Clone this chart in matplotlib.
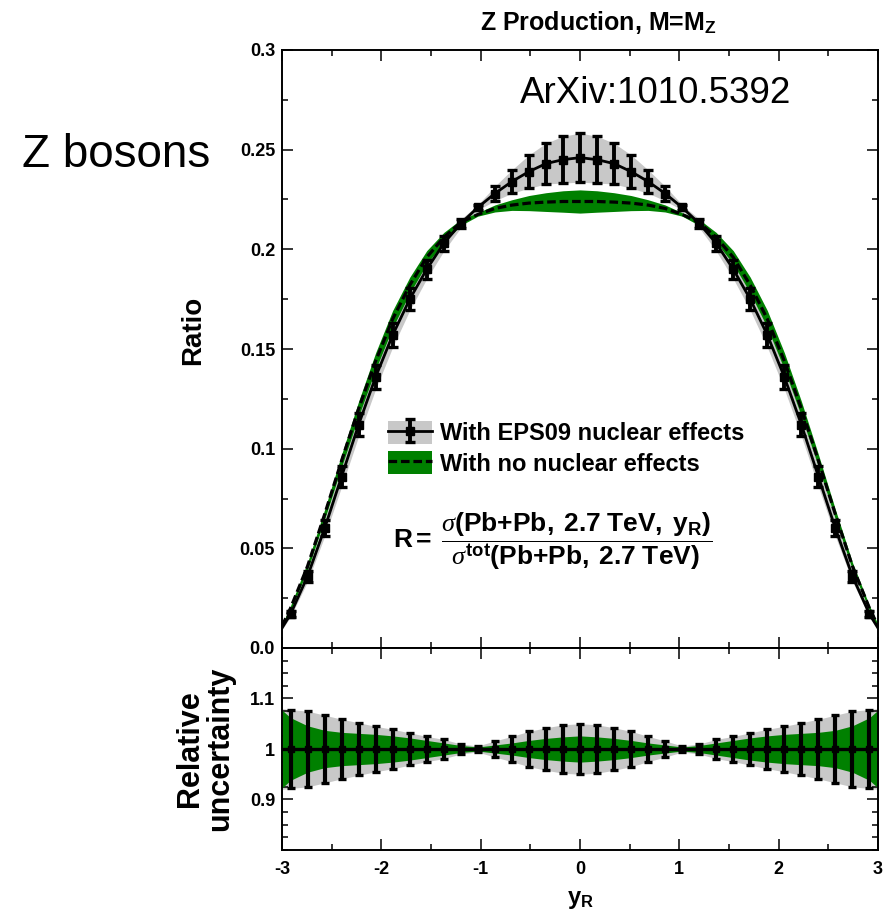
import matplotlib
matplotlib.use('Agg')
import matplotlib.pyplot as plt
import numpy as np
from matplotlib.patches import Patch
from matplotlib.legend_handler import HandlerTuple
from matplotlib.ticker import MultipleLocator

plt.rcParams['font.family'] = 'Liberation Sans'
plt.rcParams['mathtext.fontset'] = 'custom'
plt.rcParams['mathtext.rm'] = 'Liberation Sans'
plt.rcParams['mathtext.bf'] = 'Liberation Sans:bold'
plt.rcParams['mathtext.it'] = 'Liberation Serif:italic'

# rapidity grid: edges + bin centres
yr = [-3.0, -2.914, -2.743, -2.571, -2.4, -2.229, -2.057, -1.886, -1.714, -1.543,
      -1.371, -1.2, -1.029, -0.857, -0.686, -0.514, -0.343, -0.171, 0.0,
      0.171, 0.343, 0.514, 0.686, 0.857, 1.029, 1.2, 1.371, 1.543, 1.714,
      1.886, 2.057, 2.229, 2.4, 2.571, 2.743, 2.914, 3.0]

ratio_eps09 = [0.010, 0.017, 0.036, 0.060, 0.086, 0.112, 0.136, 0.157, 0.175, 0.190,
               0.203, 0.213, 0.221, 0.228, 0.234, 0.239, 0.243, 0.245, 0.246,
               0.245, 0.243, 0.239, 0.234, 0.228, 0.221, 0.213, 0.203, 0.190, 0.175,
               0.157, 0.136, 0.112, 0.086, 0.060, 0.036, 0.017, 0.010]

ratio_free = [0.011, 0.020, 0.041, 0.067, 0.094, 0.120, 0.144, 0.165, 0.182, 0.196,
              0.206, 0.2135, 0.2175, 0.2205, 0.2222, 0.2232, 0.2237, 0.224, 0.224,
              0.224, 0.2237, 0.2232, 0.2222, 0.2205, 0.2175, 0.2135, 0.206, 0.196, 0.182,
              0.165, 0.144, 0.120, 0.094, 0.067, 0.041, 0.020, 0.011]

relerr_eps09 = [0.080, 0.078, 0.075, 0.067, 0.059, 0.052, 0.045, 0.039, 0.032, 0.025,
                0.019, 0.010, 0.006, 0.016, 0.025, 0.035, 0.042, 0.048, 0.050,
                0.048, 0.042, 0.035, 0.025, 0.016, 0.006, 0.010, 0.019, 0.025, 0.032,
                0.039, 0.045, 0.052, 0.059, 0.067, 0.075, 0.078, 0.080]

relerr_free = [0.077, 0.062, 0.046, 0.037, 0.033, 0.031, 0.029, 0.026, 0.022, 0.017,
               0.012, 0.007, 0.004, 0.008, 0.012, 0.017, 0.021, 0.024, 0.026,
               0.024, 0.021, 0.017, 0.012, 0.008, 0.004, 0.007, 0.012, 0.017, 0.022,
               0.026, 0.029, 0.031, 0.033, 0.037, 0.046, 0.062, 0.077]

GRAY = '#c8c8c8'
GREEN = '#008000'

x = np.array(yr)
eps = np.array(ratio_eps09)
free = np.array(ratio_free)
e = np.array(relerr_eps09)
f = np.array(relerr_free)

fig = plt.figure(figsize=(8.86, 9.14), dpi=100)
ax1 = fig.add_axes([282/886, 1-648/914, 596/886, 598/914])
ax2 = fig.add_axes([282/886, 1-850/914, 596/886, 202/914])

# upper panel
ax1.fill_between(x, eps*(1-e), eps*(1+e), color=GRAY, lw=0, zorder=1)
ax1.fill_between(x, free*(1-f), free*(1+f), color=GREEN, lw=0, zorder=2)
dash, = ax1.plot(x, free, color='black', lw=2.3, dashes=(2.7, 1.2), zorder=3)
line, = ax1.plot(x, eps, color='black', lw=2.0, zorder=4)
eb = ax1.errorbar(x[1:-1], eps[1:-1], yerr=(eps*e)[1:-1], fmt='s', ms=5.5, color='black',
                  elinewidth=2.8, capsize=3.4, capthick=2.4, zorder=5)

ax1.legend([(Patch(facecolor=GRAY), line, eb), (Patch(facecolor=GREEN), dash)],
           ['With EPS09 nuclear effects', 'With no nuclear effects'],
           handler_map={tuple: HandlerTuple(ndivide=1)},
           loc='upper left', bbox_to_anchor=(0.178, 0.380), frameon=False,
           prop={'weight': 'bold', 'size': 17}, handlelength=1.86, handleheight=1.15,
           labelspacing=0.23, handletextpad=0.34, borderpad=0, borderaxespad=0)

formula = (r'$\mathbf{R=}\ \dfrac{\sigma\mathbf{(Pb{+}Pb,\ 2.7\ TeV,\ y_R)}}'
           r'{\sigma^{\mathbf{tot}}\mathbf{(Pb{+}Pb,\ 2.7\ TeV)}}$')
ax1.text(0.186, 0.179, formula, fontsize=19, ha='left', va='center', transform=ax1.transAxes)
ax1.text(0.40, 0.928, 'ArXiv:1010.5392', fontsize=26.5, ha='left', va='center',
         transform=ax1.transAxes)

ax1.set_xlim(-3, 3)
ax1.set_ylim(0, 0.3)
ax1.set_xticks([-3, -2, -1, 0, 1, 2, 3])
ax1.xaxis.set_minor_locator(MultipleLocator(0.5))
ax1.set_yticks([0, 0.05, 0.1, 0.15, 0.2, 0.25, 0.3],
               ['0.0', '0.05', '0.1', '0.15', '0.2', '0.25', '0.3'],
               fontweight='bold', fontsize=13)
ax1.yaxis.set_minor_locator(MultipleLocator(0.025))
ax1.tick_params(labelbottom=False)

# lower panel: relative uncertainty
rel = eps / eps
ax2.fill_between(x, rel*(1-e), rel*(1+e), color=GRAY, lw=0, zorder=1)
ax2.fill_between(x, rel*(1-f), rel*(1+f), color=GREEN, lw=0, zorder=2)
ax2.plot(x, rel, color='black', lw=2.4, zorder=3)
ax2.errorbar(x[1:-1], rel[1:-1], yerr=e[1:-1], fmt='s', ms=5, color='black',
             elinewidth=3.0, capsize=3.0, capthick=2.4, zorder=5)
ax2.set_xlim(-3, 3)
ax2.set_ylim(0.8, 1.2)
ax2.set_xticks([-3, -2, -1, 0, 1, 2, 3], ['-3', '-2', '-1', '0', '1', '2', '3'],
               fontweight='bold', fontsize=13)
ax2.xaxis.set_minor_locator(MultipleLocator(0.5))
ax2.set_yticks([0.9, 1.0, 1.1], ['0.9', '1', '1.1'], fontweight='bold', fontsize=13)
ax2.yaxis.set_minor_locator(MultipleLocator(0.025))

for ax in (ax1, ax2):
    ax.tick_params(which='both', direction='in', top=True, right=True, width=1.1, pad=5)
    ax.tick_params(which='major', length=8)
    ax.tick_params(which='minor', length=4)
    for s in ax.spines.values():
        s.set_linewidth(1.4)
ax2.tick_params(axis='x', pad=8)

fig.text(598/886, 1-22/914, 'Z Production, M=M$_\\mathbf{Z}$', fontsize=18,
         fontweight='bold', ha='center', va='center')
fig.text(116/886, 1-155/914, 'Z bosons', fontsize=33, ha='center', va='center')
fig.text(193/886, 1-330/914, 'Ratio', rotation=90, fontsize=20, fontweight='bold',
         ha='center', va='center')
fig.text(205/886, 1-749/914, 'Relative\nuncertainty', rotation=90, fontsize=22,
         fontweight='bold', ha='center', va='center', linespacing=1.0,
         multialignment='center')
fig.text(580/886, 1-900/914, r'$\mathbf{y_R}$', fontsize=17, ha='center', va='center')

fig.savefig('out.png', dpi=100)
